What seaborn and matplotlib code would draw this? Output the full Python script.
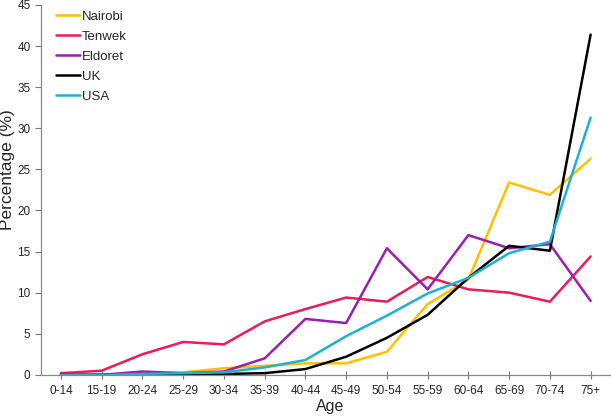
import numpy as np
import pandas as pd
import matplotlib
matplotlib.use("Agg")
import matplotlib.pyplot as plt
import seaborn as sns

# Dados
age_groups = ['0-14', '15-19', '20-24', '25-29', '30-34', '35-39', '40-44',
              '45-49', '50-54', '55-59', '60-64', '65-69', '70-74', '75+']
nairobi = [0.0, 0.0, 0.1, 0.3, 0.8, 1.1, 1.4, 1.4, 2.8, 8.6, 11.6, 23.4, 21.9, 26.3]
tenwek = [0.2, 0.5, 2.5, 4.0, 3.7, 6.5, 8.0, 9.4, 8.9, 11.9, 10.4, 10.0, 8.9, 14.4]
eldoret = [0.0, 0.0, 0.4, 0.2, 0.4, 2.0, 6.8, 6.3, 15.4, 10.4, 17.0, 15.4, 15.9, 9.0]
uk = [0.0, 0.0, 0.0, 0.0, 0.1, 0.2, 0.7, 2.2, 4.5, 7.3, 11.8, 15.7, 15.1, 41.4]
usa = [0.0, 0.0, 0.1, 0.2, 0.3, 0.9, 1.8, 4.7, 7.2, 9.9, 11.8, 14.8, 16.2, 31.3]

series = {'Nairobi': nairobi, 'Tenwek': tenwek, 'Eldoret': eldoret, 'UK': uk, 'USA': usa}
colors = {'Nairobi': '#FFC000', 'Tenwek': '#F0185A', 'Eldoret': '#9A1FB0',
          'UK': '#000000', 'USA': '#1CB2D4'}

df = pd.DataFrame(series)
df['pos'] = np.arange(len(age_groups))
long = df.melt(id_vars='pos', var_name='site', value_name='pct')

sns.set_style("white")
plt.rcParams['font.family'] = ['Liberation Sans', 'DejaVu Sans']

fig = plt.figure(figsize=(6.11, 4.16), dpi=100)
ax = fig.add_axes([0.067, 0.099, 0.933, 0.889])

sns.lineplot(data=long, x='pos', y='pct', hue='site', palette=colors,
             linewidth=1.8, ax=ax)

ax.set_xlim(-0.49, 13.5)
ax.set_ylim(0, 45)
ax.set_xticks(np.arange(len(age_groups)))
ax.set_xticklabels(age_groups, fontsize=8.5)
ax.set_yticks(np.arange(0, 46, 5))
ax.tick_params(axis='y', labelsize=8.5, direction='out', length=4, width=0.8,
               color='#777777', left=True)
ax.tick_params(axis='x', direction='inout', length=6, width=0.8,
               color='#777777', bottom=True, pad=4)
for s in ['top', 'right']:
    ax.spines[s].set_visible(False)
for s in ['left', 'bottom']:
    ax.spines[s].set_color('#888888')
    ax.spines[s].set_linewidth(0.9)

ax.set_xlabel('Age', fontsize=11.5)
ax.set_ylabel('Percentage (%)', fontsize=12.5)
ax.xaxis.set_label_coords(0.507, -0.066)
ax.yaxis.set_label_coords(-0.045, 0.554)

leg = ax.legend(loc='upper left', bbox_to_anchor=(0.017, 1.0), frameon=False,
                fontsize=9.5, handlelength=1.85, handletextpad=0.1,
                labelspacing=0.6, borderaxespad=0)

fig.savefig('out.png', dpi=100)
